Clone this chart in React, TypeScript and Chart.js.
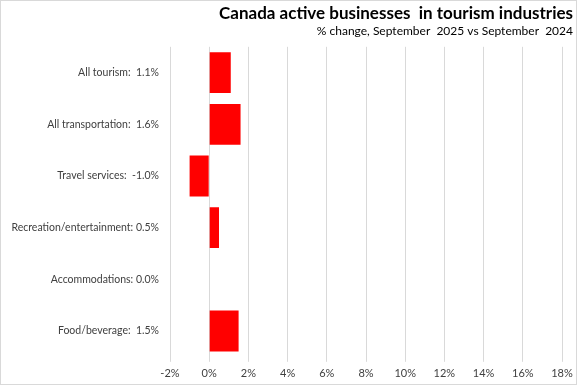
import React, { useEffect, useRef } from "react";
import { Chart, registerables } from "chart.js";

Chart.register(...registerables);

const categories = [
  "All tourism:  1.1%",
  "All transportation:  1.6%",
  "Travel services:  -1.0%",
  "Recreation/entertainment: 0.5%",
  "Accommodations: 0.0%",
  "Food/beverage:  1.5%",
];
const values = [1.1, 1.6, -1.0, 0.5, 0.0, 1.5];
const titleText = "Canada active businesses  in tourism industries";
const subtitleText = "% change, September  2025 vs September  2024";
const xMin = -2;
const xMax = 18;
const xStep = 2;

const borderPlugin = {
  id: "outerBorder",
  afterDraw(chart: any) {
    const { ctx, width, height } = chart;
    ctx.save();
    ctx.strokeStyle = "#d9d9d9";
    ctx.lineWidth = 1;
    ctx.strokeRect(0.5, 0.5, width - 1, height - 1);
    ctx.restore();
  },
};

export default function App() {
  const ref = useRef<HTMLCanvasElement>(null);
  useEffect(() => {
    document.body.style.margin = "0";
    const chart = new Chart(ref.current!, {
      type: "bar",
      data: {
        labels: categories,
        datasets: [
          {
            data: values,
            backgroundColor: "#ff0000",
            barPercentage: 0.79,
            categoryPercentage: 1,
          },
        ],
      },
      options: {
        indexAxis: "y",
        animation: false,
        responsive: false,
        layout: { padding: { top: 3, right: 4, bottom: 0, left: 0 } },
        plugins: {
          legend: { display: false },
          tooltip: { enabled: false },
          title: {
            display: true,
            text: titleText,
            align: "end",
            color: "#000000",
            font: { family: "Lato", size: 17, weight: "bold" },
            padding: { top: 0, bottom: 1 },
          },
          subtitle: {
            display: true,
            text: subtitleText,
            align: "end",
            color: "#000000",
            font: { family: "Lato", size: 12 },
            padding: { top: 0, bottom: 8 },
          },
        },
        scales: {
          x: {
            min: xMin,
            max: xMax,
            ticks: {
              stepSize: xStep,
              callback: (v: any) => v + "%",
              color: "#404040",
              font: { family: "Lato", size: 11 },
              padding: 5,
            },
            grid: { color: "#d9d9d9", tickLength: 5, drawTicks: true },
            border: { display: false },
            afterFit: (scale: any) => {
              scale.paddingRight = 15;
            },
          },
          y: {
            grid: { display: false, drawTicks: false },
            border: { display: false },
            ticks: {
              color: "#404040",
              font: { family: "Lato", size: 10.5 },
              padding: 11,
            },
            afterFit: (scale: any) => {
              scale.width = 170;
            },
          },
        },
      },
      plugins: [borderPlugin],
    });
    return () => chart.destroy();
  }, []);
  return <canvas ref={ref} width={577} height={385} style={{ display: "block" }} />;
}
